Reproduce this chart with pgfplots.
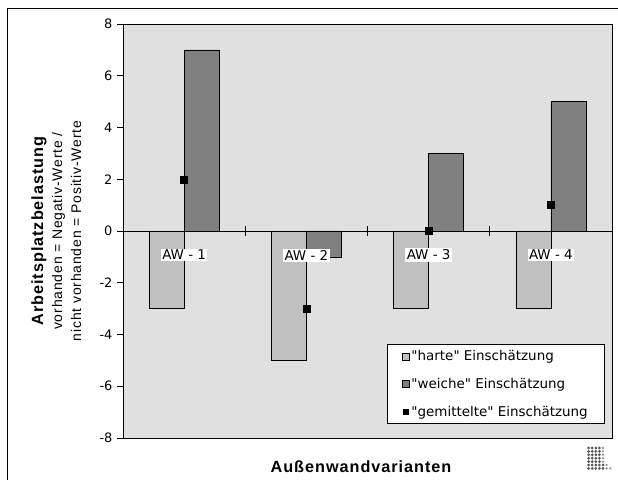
\documentclass[border=0pt]{standalone}
\usepackage{fontspec}
\setmainfont{DejaVu Sans}
\newfontfamily\arialls[LetterSpace=6]{Liberation Sans}
\usepackage{pgfplots}
\pgfplotsset{compat=1.18}
\definecolor{plotbg}{RGB}{224,224,224}
\definecolor{hartec}{RGB}{192,192,192}
\definecolor{weichec}{RGB}{128,128,128}
\definecolor{logoc}{RGB}{85,85,85}
\definecolor{logol}{RGB}{150,150,150}

\begin{document}
\begin{tikzpicture}[x=1bp,y=1bp]
\useasboundingbox (0,0) rectangle (618,480);
\draw[line width=0.8bp] (7,-10) rectangle (630,472);
\begin{axis}[
  at={(123bp,42bp)}, anchor=south west,
  scale only axis, width=489bp, height=414bp,
  xmin=0.5, xmax=4.5, ymin=-8, ymax=8,
  axis x line=middle, axis y line=left,
  axis line style={-, black, line width=0.6bp},
  axis background/.style={fill=plotbg, draw=black, line width=0.6bp},
  hide obscured x ticks=false, hide obscured y ticks=false,
  xtick=\empty,
  ytick={-8,-6,...,8},
  tick align=outside, major tick length=6bp,
  tick style={black, line width=0.6bp},
  yticklabel style={font=\fontsize{13}{13}\selectfont, xshift=-1bp},
  /pgf/number format/assume math mode=true,
  clip=false,
  legend style={at={(0.9857,0.034)}, anchor=south east, draw=black, fill=white,
    line width=0.6bp, font=\fontsize{13.5}{13.5}\selectfont,
    inner xsep=15bp, inner ysep=4bp, row sep=12bp,
    cells={anchor=west}},
  legend cell align=left,
]
\addplot[ybar, bar width=35bp, bar shift=-17.5bp, fill=hartec, draw=black, line width=0.6bp,
  legend image code/.code={\draw[fill=hartec, draw=black, line width=0.6bp] (0bp,-3.5bp) rectangle (7bp,3.5bp);}]
  coordinates {(1,-3) (2,-5) (3,-3) (4,-3)};
\addlegendentry{\textquotedbl harte\textquotedbl{} Einschätzung}
\addplot[ybar, bar width=35bp, bar shift=17.5bp, fill=weichec, draw=black, line width=0.6bp,
  legend image code/.code={\draw[fill=weichec, draw=black, line width=0.6bp] (0bp,-3.5bp) rectangle (7bp,3.5bp);}]
  coordinates {(1,7) (2,-1) (3,3) (4,5)};
\addlegendentry{\textquotedbl weiche\textquotedbl{} Einschätzung}
\addplot[only marks, mark=square*, mark size=3.5bp, black,
  legend image code/.code={\fill[black] (1bp,-2.5bp) rectangle (6bp,2.5bp);}]
  coordinates {(1,2) (2,-3) (3,0) (4,1)};
\addlegendentry{\textquotedbl gemittelte\textquotedbl{} Einschätzung}
\draw[black, line width=0.6bp] ([yshift=-5bp]axis cs:1.5,0) -- ([yshift=5bp]axis cs:1.5,0);
\draw[black, line width=0.6bp] ([yshift=-5bp]axis cs:2.5,0) -- ([yshift=5bp]axis cs:2.5,0);
\draw[black, line width=0.6bp] ([yshift=-5bp]axis cs:3.5,0) -- ([yshift=5bp]axis cs:3.5,0);
\node[fill=white, inner sep=1.5bp, font=\fontsize{13.5}{13.5}\selectfont] at (axis cs:1,-0.93) {AW - 1};
\node[fill=white, inner sep=1.5bp, font=\fontsize{13.5}{13.5}\selectfont] at (axis cs:2,-0.93) {AW - 2};
\node[fill=white, inner sep=1.5bp, font=\fontsize{13.5}{13.5}\selectfont] at (axis cs:3,-0.93) {AW - 3};
\node[fill=white, inner sep=1.5bp, font=\fontsize{13.5}{13.5}\selectfont] at (axis cs:4,-0.93) {AW - 4};
\end{axis}
\node[rotate=90, anchor=base, font=\arialls\bfseries\fontsize{16.3}{18}\selectfont] at (43,249) {Arbeitsplatzbelastung};
\node[rotate=90, anchor=base, font=\arialls\fontsize{14}{16}\selectfont] at (62,249) {vorhanden = Negativ-Werte /};
\node[rotate=90, anchor=base, font=\arialls\fontsize{14}{16}\selectfont] at (81,249) {nicht vorhanden = Positiv-Werte};
\node[anchor=base, font=\arialls\bfseries\fontsize{16.3}{18}\selectfont] at (361,7) {Außenwandvarianten};
% logo
\foreach \r/\n in {0/4,1/4,2/4,3/4,4/4,5/5,6/5} {
  \foreach \c in {1,...,\n} {
    \fill[logoc] ({585+3.6*\c},{32-3.4*\r}) circle (1.5);
  }
}
\foreach \r/\c in {0/5,1/5,2/5,3/5,4/5,5/6,6/6,6/7} {
  \fill[logol] ({585+3.6*\c},{32-3.4*\r}) circle (1.3);
}
\end{tikzpicture}
\end{document}
